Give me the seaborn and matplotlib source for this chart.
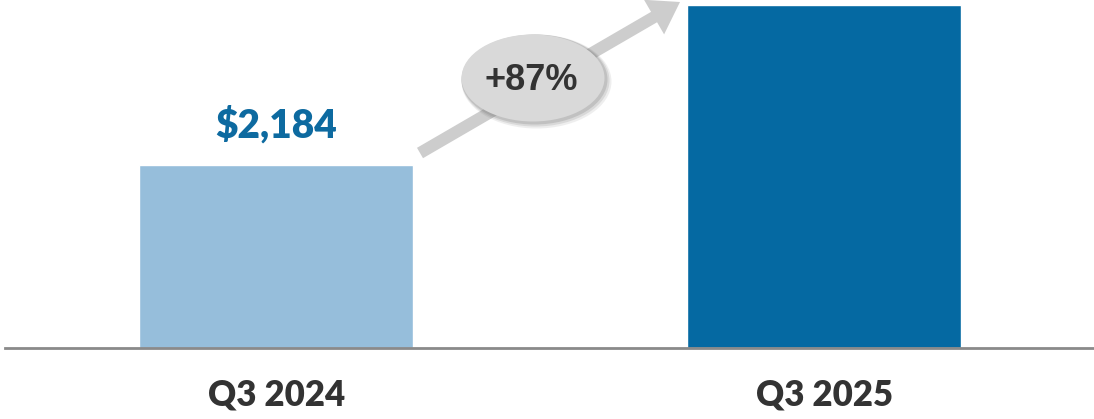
import matplotlib
matplotlib.use("Agg")
import matplotlib.pyplot as plt
import seaborn as sns
import pandas as pd
from matplotlib.patches import Ellipse, FancyArrow
from matplotlib.transforms import IdentityTransform

periods = ["Q3 2024", "Q3 2025"]
values = [2184, 4090]
bar_colors = ["#96BEDB", "#0569A2"]
value_labels = ["$2,184", None]
growth_label = "+87%"

sns.set_theme(style="white")
plt.rcParams["font.family"] = ["Lato", "DejaVu Sans"]

df = pd.DataFrame({"period": periods, "value": values})

fig = plt.figure(figsize=(10.94, 4.19), dpi=100)
ax = fig.add_axes([5 / 1094, 71 / 419, 1 - 5 / 1094, 348 / 419])
sns.barplot(data=df, x="period", y="value", hue="period", palette=bar_colors,
            width=0.5, legend=False, ax=ax, saturation=1)

ax.set_xlim(-0.4954, 1.4918)
ax.set_ylim(0, 2184 / 183 * 348)
for s in ["top", "right", "left"]:
    ax.spines[s].set_visible(False)
ax.spines["bottom"].set_color("#8a8a8a")
ax.spines["bottom"].set_linewidth(2)
ax.set_yticks([])
ax.set_xlabel("")
ax.set_ylabel("")
ax.tick_params(axis="x", length=0, pad=22)
for t in ax.get_xticklabels():
    t.set_fontsize(25)
    t.set_fontweight("heavy")
    t.set_color("#333333")

for i, (v, lab) in enumerate(zip(values, value_labels)):
    if lab:
        ax.text(i, v + 2184 / 183 * 20, lab, ha="center", va="bottom",
                fontsize=28, fontweight="heavy", color="#0D6AA0")

# growth arrow and bubble (decoration, pixel coordinates)
arr = FancyArrow(420, 419 - 153, 260, 151, width=12, head_width=40, head_length=30,
                 length_includes_head=True, transform=IdentityTransform(),
                 color="#CDCDCD", lw=0, zorder=3)
fig.patches.append(arr)

for k, a in [(7, 0.12), (5, 0.18), (3, 0.25)]:
    sh = Ellipse((533 + k / 2, 419 - 78 - k / 2), 143 + k, 87 + k,
                 transform=IdentityTransform(), color="#7a7a7a", alpha=a,
                 lw=0, zorder=4)
    fig.patches.append(sh)
bubble = Ellipse((533, 419 - 78), 143, 87, transform=IdentityTransform(),
                 color="#D9D9D9", lw=0, zorder=5)
fig.patches.append(bubble)
fig.text(531 / 1094, 1 - 80 / 419, growth_label, ha="center", va="center",
         fontsize=26, fontweight="bold", color="#333333",
         family=["Liberation Sans", "DejaVu Sans"], zorder=6)

fig.savefig("out.png", dpi=100, facecolor="white")
